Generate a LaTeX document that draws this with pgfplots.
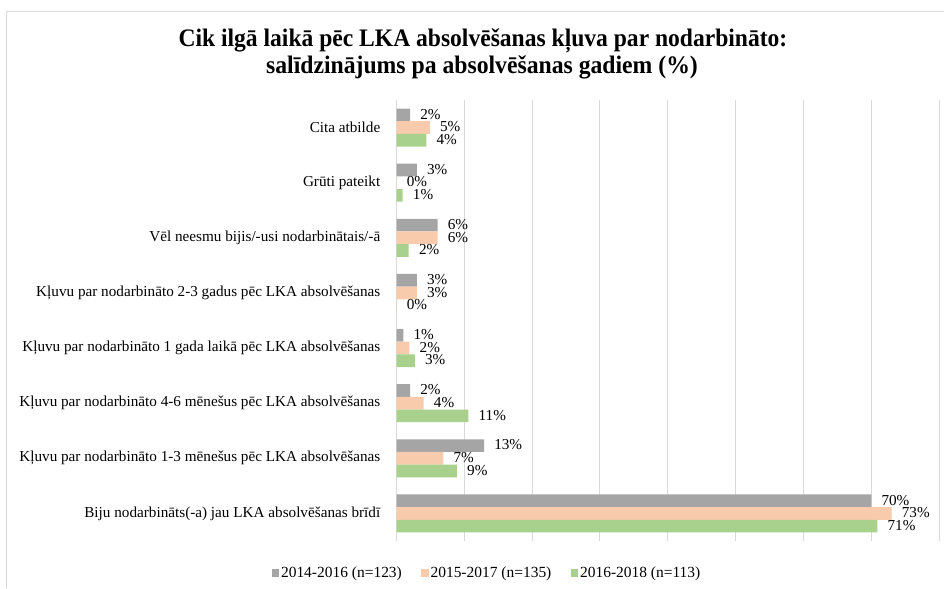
\documentclass[border=0pt]{standalone}
\usepackage{fontspec}
\setmainfont{Liberation Serif}
\usepackage{pgfplots}
\pgfplotsset{compat=1.18}
\definecolor{cgray}{HTML}{A5A5A5}
\definecolor{cpeach}{HTML}{F8CBAD}
\definecolor{cgreen}{HTML}{A9D18E}
\definecolor{cgrid}{HTML}{D9D9D9}
\begin{document}
\begin{tikzpicture}[x=1pt,y=1pt]
\useasboundingbox (0,0) rectangle (708,441);
\fill[white] (0,0) rectangle (708,441);
\draw[cgrid, line width=0.75pt] (4.5,0) -- (4.5,432) -- (708,432);
\node[anchor=base, font=\fontsize{18.9}{20}\selectfont\bfseries, xscale=0.935, inner sep=0pt] at (362.2,406) {Cik ilgā laikā pēc LKA absolvēšanas kļuva par nodarbināto:};
\node[anchor=base, font=\fontsize{18.9}{20}\selectfont\bfseries, xscale=0.94, inner sep=0pt] at (361.5,386) {salīdzinājums pa absolvēšanas gadiem (\%)};
\begin{axis}[
  at={(297.4pt,35.25pt)}, anchor=south west,
  scale only axis, width=406.9pt, height=330.75pt,
  xbar, xmin=0, xmax=80, ymin=-0.5, ymax=7.5, y dir=reverse,
  ytick={0,...,7},
  yticklabels={Cita atbilde, Grūti pateikt, Vēl neesmu bijis/-usi nodarbinātais/-ā, Kļuvu par nodarbināto 2-3 gadus pēc LKA absolvēšanas, Kļuvu par nodarbināto 1 gada laikā pēc LKA absolvēšanas, Kļuvu par nodarbināto 4-6 mēnešus pēc LKA absolvēšanas, Kļuvu par nodarbināto 1-3 mēnešus pēc LKA absolvēšanas, Biju nodarbināts(-a) jau LKA absolvēšanas brīdī},
  xtick={0,10,...,80}, xticklabels={},
  xmajorgrids, grid style={cgrid, line width=0.75pt},
  axis line style={draw=none}, major tick length=0pt,
  bar width=9.5pt,
  tick label style={font=\fontsize{11.4}{13}\selectfont},
  yticklabel style={inner sep=0pt, xshift=-12pt},
  nodes near coords={\pgfmathprintnumber[fixed,precision=0]{\pgfplotspointmeta}\%},
  nodes near coords style={anchor=west, inner sep=0pt, xshift=7.5pt, yshift=0.3pt, text height=7pt, text depth=0pt, font=\fontsize{11.4}{13}\selectfont, black},
  /pgf/number format/assume math mode=true,
  legend style={at={(0.1668,-0.0726)}, anchor=center, draw=none, fill=none, legend columns=3,
    font=\fontsize{11.6}{13}\selectfont, nodes={inner sep=1.5pt},
    /tikz/every even column/.append style={column sep=13pt}},
  legend image code/.code={\fill[#1] (0pt,-2.75pt) rectangle (5.5pt,2.75pt);},
]
\addplot[fill=cgray, draw=none, bar shift=9.5pt] table[x=v, y=c] {
c v
0 2.0
1 3.0
2 6.05
3 3.0
4 1.0
5 2.0
6 12.9
7 70.0
};
\addplot[fill=cpeach, draw=none, bar shift=0pt] table[x=v, y=c] {
c v
0 4.9
1 0
2 6.05
3 3.0
4 1.9
5 4.0
6 6.9
7 73.0
};
\addplot[fill=cgreen, draw=none, bar shift=-9.5pt] table[x=v, y=c] {
c v
0 4.4
1 0.9
2 1.8
3 0
4 2.7
5 10.6
6 8.9
7 70.9
};
\legend{2014-2016 (n=123), 2015-2017 (n=135), 2016-2018 (n=113)}
\end{axis}
\end{tikzpicture}
\end{document}
